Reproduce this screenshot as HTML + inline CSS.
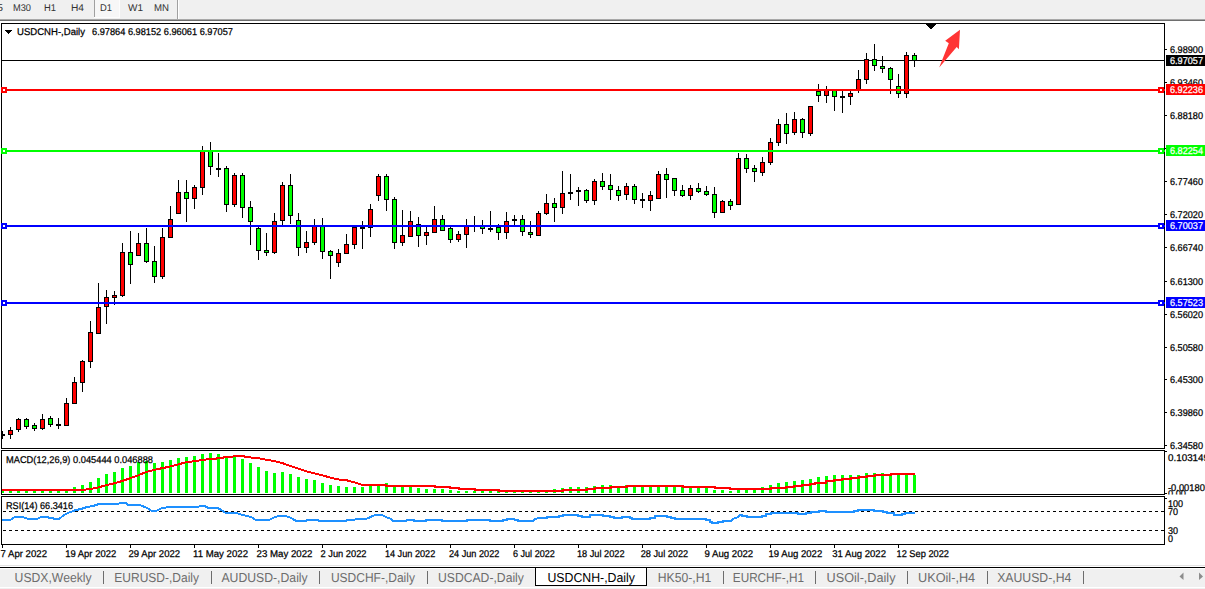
<!DOCTYPE html>
<html><head><meta charset="utf-8"><style>
html,body{margin:0;padding:0;background:#fff;width:1205px;height:589px;overflow:hidden}
svg{display:block}
text{font-family:'Liberation Sans',sans-serif;text-rendering:geometricPrecision}
</style></head><body>
<svg width="1205" height="589" viewBox="0 0 1205 589" shape-rendering="crispEdges">
<rect x="0" y="0" width="1205" height="589" fill="#fff"/>
<rect x="0" y="0" width="1205" height="18" fill="#f0f0f0"/>
<rect x="0" y="18" width="1205" height="1" fill="#f0f0f0"/>
<rect x="0" y="19" width="1205" height="1" fill="#a8a8a8"/>
<rect x="0" y="20" width="1205" height="1" fill="#6e6e6e"/>
<rect x="94" y="0" width="26" height="18" fill="#fdfdfd"/>
<rect x="95" y="0" width="24" height="17" fill="#f7f7f7"/>
<rect x="94" y="0" width="1" height="17" fill="#a0a0a0"/>
<rect x="177" y="0" width="1" height="19" fill="#a0a0a0"/>
<rect x="178" y="0" width="1" height="19" fill="#ffffff"/>
<text x="-3" y="11" font-size="9.8" fill="#333333" stroke="#333333" stroke-width="0" text-anchor="start" textLength="6" lengthAdjust="spacingAndGlyphs">5</text>
<text x="13" y="11" font-size="9.8" fill="#333333" stroke="#333333" stroke-width="0" text-anchor="start" textLength="18" lengthAdjust="spacingAndGlyphs">M30</text>
<text x="44" y="11" font-size="9.8" fill="#333333" stroke="#333333" stroke-width="0" text-anchor="start" textLength="12" lengthAdjust="spacingAndGlyphs">H1</text>
<text x="71" y="11" font-size="9.8" fill="#333333" stroke="#333333" stroke-width="0" text-anchor="start" textLength="13" lengthAdjust="spacingAndGlyphs">H4</text>
<text x="100" y="11" font-size="9.8" fill="#333333" stroke="#333333" stroke-width="0" text-anchor="start" textLength="12" lengthAdjust="spacingAndGlyphs">D1</text>
<text x="128" y="11" font-size="9.8" fill="#333333" stroke="#333333" stroke-width="0" text-anchor="start" textLength="15" lengthAdjust="spacingAndGlyphs">W1</text>
<text x="154" y="11" font-size="9.8" fill="#333333" stroke="#333333" stroke-width="0" text-anchor="start" textLength="15" lengthAdjust="spacingAndGlyphs">MN</text>
<g>
<defs><clipPath id="cm"><rect x="2" y="24" width="1162" height="424"/></clipPath><clipPath id="cd"><rect x="2" y="451" width="1162" height="43"/></clipPath><clipPath id="cr"><rect x="2" y="497" width="1162" height="47"/></clipPath></defs>
<g clip-path="url(#cm)">
<rect x="2" y="60" width="1162" height="1" fill="#000"/>
<rect x="2" y="431" width="1" height="8" fill="#000"/>
<rect x="0" y="434" width="5" height="2" fill="#000"/>
<rect x="10" y="427" width="1" height="12" fill="#000"/>
<rect x="8" y="430" width="5" height="5" fill="#000"/>
<rect x="9" y="431" width="3" height="3" fill="#ff0000"/>
<rect x="18" y="418" width="1" height="14" fill="#000"/>
<rect x="16" y="419" width="5" height="11" fill="#000"/>
<rect x="17" y="420" width="3" height="9" fill="#ff0000"/>
<rect x="26" y="418" width="1" height="11" fill="#000"/>
<rect x="24" y="419" width="5" height="8" fill="#000"/>
<rect x="25" y="420" width="3" height="6" fill="#00ff00"/>
<rect x="34" y="423" width="1" height="8" fill="#000"/>
<rect x="32" y="425" width="5" height="4" fill="#000"/>
<rect x="33" y="426" width="3" height="2" fill="#00ff00"/>
<rect x="42" y="414" width="1" height="16" fill="#000"/>
<rect x="40" y="419" width="5" height="10" fill="#000"/>
<rect x="41" y="420" width="3" height="8" fill="#ff0000"/>
<rect x="50" y="416" width="1" height="11" fill="#000"/>
<rect x="48" y="418" width="5" height="7" fill="#000"/>
<rect x="49" y="419" width="3" height="5" fill="#00ff00"/>
<rect x="58" y="418" width="1" height="11" fill="#000"/>
<rect x="56" y="424" width="5" height="2" fill="#000"/>
<rect x="66" y="398" width="1" height="28" fill="#000"/>
<rect x="64" y="403" width="5" height="23" fill="#000"/>
<rect x="65" y="404" width="3" height="21" fill="#ff0000"/>
<rect x="74" y="377" width="1" height="27" fill="#000"/>
<rect x="72" y="382" width="5" height="22" fill="#000"/>
<rect x="73" y="383" width="3" height="20" fill="#ff0000"/>
<rect x="82" y="360" width="1" height="32" fill="#000"/>
<rect x="80" y="361" width="5" height="22" fill="#000"/>
<rect x="81" y="362" width="3" height="20" fill="#ff0000"/>
<rect x="90" y="321" width="1" height="47" fill="#000"/>
<rect x="88" y="332" width="5" height="30" fill="#000"/>
<rect x="89" y="333" width="3" height="28" fill="#ff0000"/>
<rect x="98" y="283" width="1" height="51" fill="#000"/>
<rect x="96" y="307" width="5" height="27" fill="#000"/>
<rect x="97" y="308" width="3" height="25" fill="#ff0000"/>
<rect x="106" y="290" width="1" height="34" fill="#000"/>
<rect x="104" y="297" width="5" height="10" fill="#000"/>
<rect x="105" y="298" width="3" height="8" fill="#ff0000"/>
<rect x="114" y="291" width="1" height="14" fill="#000"/>
<rect x="112" y="295" width="5" height="3" fill="#000"/>
<rect x="113" y="296" width="3" height="1" fill="#ff0000"/>
<rect x="122" y="243" width="1" height="54" fill="#000"/>
<rect x="120" y="252" width="5" height="44" fill="#000"/>
<rect x="121" y="253" width="3" height="42" fill="#ff0000"/>
<rect x="130" y="231" width="1" height="53" fill="#000"/>
<rect x="128" y="252" width="5" height="13" fill="#000"/>
<rect x="129" y="253" width="3" height="11" fill="#00ff00"/>
<rect x="138" y="233" width="1" height="23" fill="#000"/>
<rect x="136" y="243" width="5" height="13" fill="#000"/>
<rect x="137" y="244" width="3" height="11" fill="#ff0000"/>
<rect x="146" y="228" width="1" height="35" fill="#000"/>
<rect x="144" y="243" width="5" height="19" fill="#000"/>
<rect x="145" y="244" width="3" height="17" fill="#00ff00"/>
<rect x="154" y="246" width="1" height="37" fill="#000"/>
<rect x="152" y="261" width="5" height="16" fill="#000"/>
<rect x="153" y="262" width="3" height="14" fill="#00ff00"/>
<rect x="162" y="228" width="1" height="51" fill="#000"/>
<rect x="160" y="237" width="5" height="40" fill="#000"/>
<rect x="161" y="238" width="3" height="38" fill="#ff0000"/>
<rect x="170" y="206" width="1" height="32" fill="#000"/>
<rect x="168" y="219" width="5" height="19" fill="#000"/>
<rect x="169" y="220" width="3" height="17" fill="#ff0000"/>
<rect x="178" y="180" width="1" height="34" fill="#000"/>
<rect x="176" y="192" width="5" height="22" fill="#000"/>
<rect x="177" y="193" width="3" height="20" fill="#ff0000"/>
<rect x="186" y="180" width="1" height="42" fill="#000"/>
<rect x="184" y="192" width="5" height="7" fill="#000"/>
<rect x="185" y="193" width="3" height="5" fill="#00ff00"/>
<rect x="194" y="185" width="1" height="24" fill="#000"/>
<rect x="192" y="187" width="5" height="12" fill="#000"/>
<rect x="193" y="188" width="3" height="10" fill="#ff0000"/>
<rect x="202" y="146" width="1" height="49" fill="#000"/>
<rect x="200" y="151" width="5" height="37" fill="#000"/>
<rect x="201" y="152" width="3" height="35" fill="#ff0000"/>
<rect x="210" y="142" width="1" height="33" fill="#000"/>
<rect x="208" y="151" width="5" height="16" fill="#000"/>
<rect x="209" y="152" width="3" height="14" fill="#00ff00"/>
<rect x="218" y="153" width="1" height="24" fill="#000"/>
<rect x="216" y="168" width="5" height="2" fill="#000"/>
<rect x="226" y="166" width="1" height="46" fill="#000"/>
<rect x="224" y="168" width="5" height="37" fill="#000"/>
<rect x="225" y="169" width="3" height="35" fill="#00ff00"/>
<rect x="234" y="173" width="1" height="34" fill="#000"/>
<rect x="232" y="175" width="5" height="30" fill="#000"/>
<rect x="233" y="176" width="3" height="28" fill="#ff0000"/>
<rect x="242" y="173" width="1" height="45" fill="#000"/>
<rect x="240" y="175" width="5" height="33" fill="#000"/>
<rect x="241" y="176" width="3" height="31" fill="#00ff00"/>
<rect x="250" y="201" width="1" height="44" fill="#000"/>
<rect x="248" y="207" width="5" height="15" fill="#000"/>
<rect x="249" y="208" width="3" height="13" fill="#00ff00"/>
<rect x="258" y="227" width="1" height="33" fill="#000"/>
<rect x="256" y="228" width="5" height="23" fill="#000"/>
<rect x="257" y="229" width="3" height="21" fill="#00ff00"/>
<rect x="266" y="233" width="1" height="23" fill="#000"/>
<rect x="264" y="250" width="5" height="3" fill="#000"/>
<rect x="265" y="251" width="3" height="1" fill="#00ff00"/>
<rect x="274" y="213" width="1" height="41" fill="#000"/>
<rect x="272" y="221" width="5" height="32" fill="#000"/>
<rect x="273" y="222" width="3" height="30" fill="#ff0000"/>
<rect x="282" y="182" width="1" height="43" fill="#000"/>
<rect x="280" y="185" width="5" height="36" fill="#000"/>
<rect x="281" y="186" width="3" height="34" fill="#ff0000"/>
<rect x="290" y="174" width="1" height="50" fill="#000"/>
<rect x="288" y="185" width="5" height="31" fill="#000"/>
<rect x="289" y="186" width="3" height="29" fill="#00ff00"/>
<rect x="298" y="213" width="1" height="43" fill="#000"/>
<rect x="296" y="220" width="5" height="28" fill="#000"/>
<rect x="297" y="221" width="3" height="26" fill="#00ff00"/>
<rect x="306" y="231" width="1" height="22" fill="#000"/>
<rect x="304" y="242" width="5" height="6" fill="#000"/>
<rect x="305" y="243" width="3" height="4" fill="#ff0000"/>
<rect x="314" y="219" width="1" height="26" fill="#000"/>
<rect x="312" y="226" width="5" height="17" fill="#000"/>
<rect x="313" y="227" width="3" height="15" fill="#ff0000"/>
<rect x="322" y="218" width="1" height="41" fill="#000"/>
<rect x="320" y="226" width="5" height="26" fill="#000"/>
<rect x="321" y="227" width="3" height="24" fill="#00ff00"/>
<rect x="330" y="250" width="1" height="29" fill="#000"/>
<rect x="328" y="251" width="5" height="5" fill="#000"/>
<rect x="329" y="252" width="3" height="3" fill="#00ff00"/>
<rect x="338" y="249" width="1" height="18" fill="#000"/>
<rect x="336" y="253" width="5" height="10" fill="#000"/>
<rect x="337" y="254" width="3" height="8" fill="#ff0000"/>
<rect x="346" y="234" width="1" height="20" fill="#000"/>
<rect x="344" y="244" width="5" height="10" fill="#000"/>
<rect x="345" y="245" width="3" height="8" fill="#ff0000"/>
<rect x="354" y="227" width="1" height="22" fill="#000"/>
<rect x="352" y="227" width="5" height="18" fill="#000"/>
<rect x="353" y="228" width="3" height="16" fill="#ff0000"/>
<rect x="362" y="221" width="1" height="28" fill="#000"/>
<rect x="360" y="227" width="5" height="2" fill="#000"/>
<rect x="370" y="204" width="1" height="33" fill="#000"/>
<rect x="368" y="209" width="5" height="19" fill="#000"/>
<rect x="369" y="210" width="3" height="17" fill="#ff0000"/>
<rect x="378" y="174" width="1" height="27" fill="#000"/>
<rect x="376" y="176" width="5" height="20" fill="#000"/>
<rect x="377" y="177" width="3" height="18" fill="#ff0000"/>
<rect x="386" y="174" width="1" height="37" fill="#000"/>
<rect x="384" y="176" width="5" height="24" fill="#000"/>
<rect x="385" y="177" width="3" height="22" fill="#00ff00"/>
<rect x="394" y="197" width="1" height="52" fill="#000"/>
<rect x="392" y="199" width="5" height="44" fill="#000"/>
<rect x="393" y="200" width="3" height="42" fill="#00ff00"/>
<rect x="402" y="210" width="1" height="36" fill="#000"/>
<rect x="400" y="235" width="5" height="8" fill="#000"/>
<rect x="401" y="236" width="3" height="6" fill="#ff0000"/>
<rect x="410" y="211" width="1" height="26" fill="#000"/>
<rect x="408" y="221" width="5" height="16" fill="#000"/>
<rect x="409" y="222" width="3" height="14" fill="#ff0000"/>
<rect x="418" y="217" width="1" height="30" fill="#000"/>
<rect x="416" y="224" width="5" height="12" fill="#000"/>
<rect x="417" y="225" width="3" height="10" fill="#00ff00"/>
<rect x="426" y="227" width="1" height="18" fill="#000"/>
<rect x="424" y="232" width="5" height="4" fill="#000"/>
<rect x="425" y="233" width="3" height="2" fill="#ff0000"/>
<rect x="434" y="206" width="1" height="27" fill="#000"/>
<rect x="432" y="219" width="5" height="14" fill="#000"/>
<rect x="433" y="220" width="3" height="12" fill="#ff0000"/>
<rect x="442" y="215" width="1" height="16" fill="#000"/>
<rect x="440" y="219" width="5" height="12" fill="#000"/>
<rect x="441" y="220" width="3" height="10" fill="#00ff00"/>
<rect x="450" y="226" width="1" height="17" fill="#000"/>
<rect x="448" y="228" width="5" height="12" fill="#000"/>
<rect x="449" y="229" width="3" height="10" fill="#00ff00"/>
<rect x="458" y="231" width="1" height="11" fill="#000"/>
<rect x="456" y="234" width="5" height="6" fill="#000"/>
<rect x="457" y="235" width="3" height="4" fill="#ff0000"/>
<rect x="466" y="219" width="1" height="29" fill="#000"/>
<rect x="464" y="226" width="5" height="9" fill="#000"/>
<rect x="465" y="227" width="3" height="7" fill="#ff0000"/>
<rect x="474" y="216" width="1" height="16" fill="#000"/>
<rect x="472" y="225" width="5" height="2" fill="#000"/>
<rect x="482" y="220" width="1" height="14" fill="#000"/>
<rect x="480" y="226" width="5" height="3" fill="#000"/>
<rect x="481" y="227" width="3" height="1" fill="#00ff00"/>
<rect x="490" y="211" width="1" height="21" fill="#000"/>
<rect x="488" y="228" width="5" height="2" fill="#000"/>
<rect x="498" y="224" width="1" height="16" fill="#000"/>
<rect x="496" y="227" width="5" height="6" fill="#000"/>
<rect x="497" y="228" width="3" height="4" fill="#00ff00"/>
<rect x="506" y="212" width="1" height="27" fill="#000"/>
<rect x="504" y="221" width="5" height="12" fill="#000"/>
<rect x="505" y="222" width="3" height="10" fill="#ff0000"/>
<rect x="514" y="215" width="1" height="10" fill="#000"/>
<rect x="512" y="219" width="5" height="2" fill="#000"/>
<rect x="522" y="215" width="1" height="21" fill="#000"/>
<rect x="520" y="219" width="5" height="13" fill="#000"/>
<rect x="521" y="220" width="3" height="11" fill="#00ff00"/>
<rect x="530" y="221" width="1" height="17" fill="#000"/>
<rect x="528" y="232" width="5" height="3" fill="#000"/>
<rect x="529" y="233" width="3" height="1" fill="#00ff00"/>
<rect x="538" y="211" width="1" height="25" fill="#000"/>
<rect x="536" y="213" width="5" height="23" fill="#000"/>
<rect x="537" y="214" width="3" height="21" fill="#ff0000"/>
<rect x="546" y="194" width="1" height="21" fill="#000"/>
<rect x="544" y="203" width="5" height="11" fill="#000"/>
<rect x="545" y="204" width="3" height="9" fill="#ff0000"/>
<rect x="554" y="198" width="1" height="24" fill="#000"/>
<rect x="552" y="203" width="5" height="5" fill="#000"/>
<rect x="553" y="204" width="3" height="3" fill="#00ff00"/>
<rect x="562" y="171" width="1" height="43" fill="#000"/>
<rect x="560" y="193" width="5" height="15" fill="#000"/>
<rect x="561" y="194" width="3" height="13" fill="#ff0000"/>
<rect x="570" y="174" width="1" height="26" fill="#000"/>
<rect x="568" y="192" width="5" height="2" fill="#000"/>
<rect x="578" y="187" width="1" height="19" fill="#000"/>
<rect x="576" y="190" width="5" height="2" fill="#000"/>
<rect x="586" y="189" width="1" height="14" fill="#000"/>
<rect x="584" y="190" width="5" height="11" fill="#000"/>
<rect x="585" y="191" width="3" height="9" fill="#00ff00"/>
<rect x="594" y="179" width="1" height="26" fill="#000"/>
<rect x="592" y="181" width="5" height="20" fill="#000"/>
<rect x="593" y="182" width="3" height="18" fill="#ff0000"/>
<rect x="602" y="173" width="1" height="17" fill="#000"/>
<rect x="600" y="181" width="5" height="6" fill="#000"/>
<rect x="601" y="182" width="3" height="4" fill="#00ff00"/>
<rect x="610" y="174" width="1" height="26" fill="#000"/>
<rect x="608" y="185" width="5" height="5" fill="#000"/>
<rect x="609" y="186" width="3" height="3" fill="#00ff00"/>
<rect x="618" y="186" width="1" height="15" fill="#000"/>
<rect x="616" y="190" width="5" height="6" fill="#000"/>
<rect x="617" y="191" width="3" height="4" fill="#00ff00"/>
<rect x="626" y="183" width="1" height="17" fill="#000"/>
<rect x="624" y="186" width="5" height="9" fill="#000"/>
<rect x="625" y="187" width="3" height="7" fill="#ff0000"/>
<rect x="634" y="184" width="1" height="20" fill="#000"/>
<rect x="632" y="186" width="5" height="14" fill="#000"/>
<rect x="633" y="187" width="3" height="12" fill="#00ff00"/>
<rect x="642" y="193" width="1" height="15" fill="#000"/>
<rect x="640" y="199" width="5" height="2" fill="#000"/>
<rect x="650" y="191" width="1" height="20" fill="#000"/>
<rect x="648" y="195" width="5" height="6" fill="#000"/>
<rect x="649" y="196" width="3" height="4" fill="#ff0000"/>
<rect x="658" y="171" width="1" height="28" fill="#000"/>
<rect x="656" y="174" width="5" height="25" fill="#000"/>
<rect x="657" y="175" width="3" height="23" fill="#ff0000"/>
<rect x="666" y="168" width="1" height="30" fill="#000"/>
<rect x="664" y="174" width="5" height="6" fill="#000"/>
<rect x="665" y="175" width="3" height="4" fill="#00ff00"/>
<rect x="674" y="178" width="1" height="18" fill="#000"/>
<rect x="672" y="178" width="5" height="13" fill="#000"/>
<rect x="673" y="179" width="3" height="11" fill="#00ff00"/>
<rect x="682" y="185" width="1" height="12" fill="#000"/>
<rect x="680" y="190" width="5" height="6" fill="#000"/>
<rect x="681" y="191" width="3" height="4" fill="#00ff00"/>
<rect x="690" y="185" width="1" height="15" fill="#000"/>
<rect x="688" y="188" width="5" height="8" fill="#000"/>
<rect x="689" y="189" width="3" height="6" fill="#ff0000"/>
<rect x="698" y="183" width="1" height="10" fill="#000"/>
<rect x="696" y="188" width="5" height="4" fill="#000"/>
<rect x="697" y="189" width="3" height="2" fill="#00ff00"/>
<rect x="706" y="186" width="1" height="10" fill="#000"/>
<rect x="704" y="191" width="5" height="4" fill="#000"/>
<rect x="705" y="192" width="3" height="2" fill="#00ff00"/>
<rect x="714" y="187" width="1" height="31" fill="#000"/>
<rect x="712" y="194" width="5" height="19" fill="#000"/>
<rect x="713" y="195" width="3" height="17" fill="#00ff00"/>
<rect x="722" y="200" width="1" height="13" fill="#000"/>
<rect x="720" y="201" width="5" height="12" fill="#000"/>
<rect x="721" y="202" width="3" height="10" fill="#ff0000"/>
<rect x="730" y="199" width="1" height="11" fill="#000"/>
<rect x="728" y="201" width="5" height="5" fill="#000"/>
<rect x="729" y="202" width="3" height="3" fill="#00ff00"/>
<rect x="738" y="153" width="1" height="52" fill="#000"/>
<rect x="736" y="158" width="5" height="47" fill="#000"/>
<rect x="737" y="159" width="3" height="45" fill="#ff0000"/>
<rect x="746" y="154" width="1" height="19" fill="#000"/>
<rect x="744" y="158" width="5" height="11" fill="#000"/>
<rect x="745" y="159" width="3" height="9" fill="#00ff00"/>
<rect x="754" y="165" width="1" height="17" fill="#000"/>
<rect x="752" y="168" width="5" height="4" fill="#000"/>
<rect x="753" y="169" width="3" height="2" fill="#00ff00"/>
<rect x="762" y="157" width="1" height="19" fill="#000"/>
<rect x="760" y="162" width="5" height="11" fill="#000"/>
<rect x="761" y="163" width="3" height="9" fill="#ff0000"/>
<rect x="770" y="138" width="1" height="27" fill="#000"/>
<rect x="768" y="142" width="5" height="21" fill="#000"/>
<rect x="769" y="143" width="3" height="19" fill="#ff0000"/>
<rect x="778" y="119" width="1" height="27" fill="#000"/>
<rect x="776" y="124" width="5" height="19" fill="#000"/>
<rect x="777" y="125" width="3" height="17" fill="#ff0000"/>
<rect x="786" y="113" width="1" height="31" fill="#000"/>
<rect x="784" y="124" width="5" height="10" fill="#000"/>
<rect x="785" y="125" width="3" height="8" fill="#00ff00"/>
<rect x="794" y="112" width="1" height="23" fill="#000"/>
<rect x="792" y="119" width="5" height="14" fill="#000"/>
<rect x="793" y="120" width="3" height="12" fill="#ff0000"/>
<rect x="802" y="118" width="1" height="20" fill="#000"/>
<rect x="800" y="119" width="5" height="14" fill="#000"/>
<rect x="801" y="120" width="3" height="12" fill="#00ff00"/>
<rect x="810" y="106" width="1" height="30" fill="#000"/>
<rect x="808" y="106" width="5" height="28" fill="#000"/>
<rect x="809" y="107" width="3" height="26" fill="#ff0000"/>
<rect x="818" y="84" width="1" height="18" fill="#000"/>
<rect x="816" y="91" width="5" height="5" fill="#000"/>
<rect x="817" y="92" width="3" height="3" fill="#00ff00"/>
<rect x="826" y="86" width="1" height="17" fill="#000"/>
<rect x="824" y="90" width="5" height="6" fill="#000"/>
<rect x="825" y="91" width="3" height="4" fill="#ff0000"/>
<rect x="834" y="90" width="1" height="21" fill="#000"/>
<rect x="832" y="90" width="5" height="7" fill="#000"/>
<rect x="833" y="91" width="3" height="5" fill="#00ff00"/>
<rect x="842" y="90" width="1" height="23" fill="#000"/>
<rect x="840" y="96" width="5" height="2" fill="#000"/>
<rect x="850" y="91" width="1" height="14" fill="#000"/>
<rect x="848" y="93" width="5" height="4" fill="#000"/>
<rect x="849" y="94" width="3" height="2" fill="#ff0000"/>
<rect x="858" y="70" width="1" height="23" fill="#000"/>
<rect x="856" y="79" width="5" height="12" fill="#000"/>
<rect x="857" y="80" width="3" height="10" fill="#ff0000"/>
<rect x="866" y="53" width="1" height="31" fill="#000"/>
<rect x="864" y="59" width="5" height="21" fill="#000"/>
<rect x="865" y="60" width="3" height="19" fill="#ff0000"/>
<rect x="874" y="44" width="1" height="27" fill="#000"/>
<rect x="872" y="59" width="5" height="7" fill="#000"/>
<rect x="873" y="60" width="3" height="5" fill="#00ff00"/>
<rect x="882" y="56" width="1" height="17" fill="#000"/>
<rect x="880" y="66" width="5" height="3" fill="#000"/>
<rect x="881" y="67" width="3" height="1" fill="#00ff00"/>
<rect x="890" y="67" width="1" height="27" fill="#000"/>
<rect x="888" y="68" width="5" height="12" fill="#000"/>
<rect x="889" y="69" width="3" height="10" fill="#00ff00"/>
<rect x="898" y="74" width="1" height="24" fill="#000"/>
<rect x="896" y="86" width="5" height="8" fill="#000"/>
<rect x="897" y="87" width="3" height="6" fill="#00ff00"/>
<rect x="906" y="52" width="1" height="46" fill="#000"/>
<rect x="904" y="55" width="5" height="39" fill="#000"/>
<rect x="905" y="56" width="3" height="37" fill="#ff0000"/>
<rect x="914" y="53" width="1" height="14" fill="#000"/>
<rect x="912" y="55" width="5" height="6" fill="#000"/>
<rect x="913" y="56" width="3" height="4" fill="#00ff00"/>
<rect x="926" y="24" width="10" height="1" fill="#000"/>
<rect x="927" y="25" width="8" height="1" fill="#000"/>
<rect x="928" y="26" width="6" height="1" fill="#000"/>
<rect x="929" y="27" width="4" height="1" fill="#000"/>
<rect x="930" y="28" width="2" height="1" fill="#000"/>
</g>
<polygon points="939.2,67.4 948.8,43.3 945.2,40.8 960,29.8 958.9,49.2 956.7,46.9" fill="#ff3434" shape-rendering="geometricPrecision"/>
<rect x="1" y="23" width="1164" height="1" fill="#000"/>
<rect x="1" y="448" width="1164" height="1" fill="#000"/>
<rect x="1" y="23" width="1" height="426" fill="#000"/>
<rect x="1164" y="23" width="1" height="426" fill="#000"/>
<rect x="2" y="89" width="1163" height="2" fill="#ff0000"/>
<rect x="1" y="87" width="6" height="6" fill="#ff0000"/>
<rect x="3" y="89" width="2" height="2" fill="#fff"/>
<rect x="1158" y="87" width="6" height="6" fill="#ff0000"/>
<rect x="1160" y="89" width="2" height="2" fill="#fff"/>
<rect x="2" y="150" width="1163" height="2" fill="#00ff00"/>
<rect x="1" y="148" width="6" height="6" fill="#00ff00"/>
<rect x="3" y="150" width="2" height="2" fill="#fff"/>
<rect x="1158" y="148" width="6" height="6" fill="#00ff00"/>
<rect x="1160" y="150" width="2" height="2" fill="#fff"/>
<rect x="2" y="225" width="1163" height="2" fill="#0000ff"/>
<rect x="1" y="223" width="6" height="6" fill="#0000ff"/>
<rect x="3" y="225" width="2" height="2" fill="#fff"/>
<rect x="1158" y="223" width="6" height="6" fill="#0000ff"/>
<rect x="1160" y="225" width="2" height="2" fill="#fff"/>
<rect x="2" y="302" width="1163" height="2" fill="#0000ff"/>
<rect x="1" y="300" width="6" height="6" fill="#0000ff"/>
<rect x="3" y="302" width="2" height="2" fill="#fff"/>
<rect x="1158" y="300" width="6" height="6" fill="#0000ff"/>
<rect x="1160" y="302" width="2" height="2" fill="#fff"/>
<rect x="5" y="30" width="7" height="1" fill="#000"/>
<rect x="6" y="31" width="5" height="1" fill="#000"/>
<rect x="7" y="32" width="3" height="1" fill="#000"/>
<rect x="8" y="33" width="1" height="1" fill="#000"/>
<text x="17" y="35" font-size="9.8" fill="#000" stroke="#000" stroke-width="0.25" text-anchor="start" textLength="68" lengthAdjust="spacingAndGlyphs">USDCNH-,Daily</text>
<text x="92" y="35" font-size="9.8" fill="#000" stroke="#000" stroke-width="0.25" text-anchor="start" textLength="141" lengthAdjust="spacingAndGlyphs">6.97864 6.98152 6.96061 6.97057</text>
<rect x="1165" y="49" width="2" height="1" fill="#000"/>
<text x="1170" y="53" font-size="9.8" fill="#000" stroke="#000" stroke-width="0.25" text-anchor="start" textLength="33" lengthAdjust="spacingAndGlyphs">6.98900</text>
<rect x="1165" y="82" width="2" height="1" fill="#000"/>
<text x="1170" y="86" font-size="9.8" fill="#000" stroke="#000" stroke-width="0.25" text-anchor="start" textLength="33" lengthAdjust="spacingAndGlyphs">6.93460</text>
<rect x="1165" y="115" width="2" height="1" fill="#000"/>
<text x="1170" y="119" font-size="9.8" fill="#000" stroke="#000" stroke-width="0.25" text-anchor="start" textLength="33" lengthAdjust="spacingAndGlyphs">6.88180</text>
<rect x="1165" y="148" width="2" height="1" fill="#000"/>
<text x="1170" y="152" font-size="9.8" fill="#000" stroke="#000" stroke-width="0.25" text-anchor="start" textLength="33" lengthAdjust="spacingAndGlyphs">6.82740</text>
<rect x="1165" y="181" width="2" height="1" fill="#000"/>
<text x="1170" y="185" font-size="9.8" fill="#000" stroke="#000" stroke-width="0.25" text-anchor="start" textLength="33" lengthAdjust="spacingAndGlyphs">6.77460</text>
<rect x="1165" y="214" width="2" height="1" fill="#000"/>
<text x="1170" y="218" font-size="9.8" fill="#000" stroke="#000" stroke-width="0.25" text-anchor="start" textLength="33" lengthAdjust="spacingAndGlyphs">6.72020</text>
<rect x="1165" y="247" width="2" height="1" fill="#000"/>
<text x="1170" y="251" font-size="9.8" fill="#000" stroke="#000" stroke-width="0.25" text-anchor="start" textLength="33" lengthAdjust="spacingAndGlyphs">6.66740</text>
<rect x="1165" y="281" width="2" height="1" fill="#000"/>
<text x="1170" y="285" font-size="9.8" fill="#000" stroke="#000" stroke-width="0.25" text-anchor="start" textLength="33" lengthAdjust="spacingAndGlyphs">6.61300</text>
<rect x="1165" y="314" width="2" height="1" fill="#000"/>
<text x="1170" y="318" font-size="9.8" fill="#000" stroke="#000" stroke-width="0.25" text-anchor="start" textLength="33" lengthAdjust="spacingAndGlyphs">6.56020</text>
<rect x="1165" y="347" width="2" height="1" fill="#000"/>
<text x="1170" y="351" font-size="9.8" fill="#000" stroke="#000" stroke-width="0.25" text-anchor="start" textLength="33" lengthAdjust="spacingAndGlyphs">6.50580</text>
<rect x="1165" y="379" width="2" height="1" fill="#000"/>
<text x="1170" y="383" font-size="9.8" fill="#000" stroke="#000" stroke-width="0.25" text-anchor="start" textLength="33" lengthAdjust="spacingAndGlyphs">6.45300</text>
<rect x="1165" y="412" width="2" height="1" fill="#000"/>
<text x="1170" y="416" font-size="9.8" fill="#000" stroke="#000" stroke-width="0.25" text-anchor="start" textLength="33" lengthAdjust="spacingAndGlyphs">6.39860</text>
<rect x="1165" y="445" width="2" height="1" fill="#000"/>
<text x="1170" y="449" font-size="9.8" fill="#000" stroke="#000" stroke-width="0.25" text-anchor="start" textLength="33" lengthAdjust="spacingAndGlyphs">6.34580</text>
<rect x="1166" y="55" width="39" height="11" fill="#000"/>
<text x="1170" y="64" font-size="9.8" fill="#fff" stroke="#fff" stroke-width="0.25" text-anchor="start" textLength="33" lengthAdjust="spacingAndGlyphs">6.97057</text>
<rect x="1166" y="84" width="39" height="11" fill="#ff0000"/>
<text x="1170" y="93" font-size="9.8" fill="#fff" stroke="#fff" stroke-width="0.25" text-anchor="start" textLength="33" lengthAdjust="spacingAndGlyphs">6.92236</text>
<rect x="1166" y="145" width="39" height="11" fill="#00ff00"/>
<text x="1170" y="154" font-size="9.8" fill="#fff" stroke="#fff" stroke-width="0.25" text-anchor="start" textLength="33" lengthAdjust="spacingAndGlyphs">6.82254</text>
<rect x="1166" y="220" width="39" height="11" fill="#0000ff"/>
<text x="1170" y="229" font-size="9.8" fill="#fff" stroke="#fff" stroke-width="0.25" text-anchor="start" textLength="33" lengthAdjust="spacingAndGlyphs">6.70037</text>
<rect x="1166" y="297" width="39" height="11" fill="#0000ff"/>
<text x="1170" y="306" font-size="9.8" fill="#fff" stroke="#fff" stroke-width="0.25" text-anchor="start" textLength="33" lengthAdjust="spacingAndGlyphs">6.57523</text>
<rect x="1" y="450" width="1164" height="1" fill="#000"/>
<rect x="1" y="494" width="1164" height="1" fill="#000"/>
<rect x="1" y="450" width="1" height="45" fill="#000"/>
<rect x="1164" y="450" width="1" height="45" fill="#000"/>
<g clip-path="url(#cd)">
<rect x="1" y="491" width="3" height="2" fill="#00ff00"/>
<rect x="9" y="491" width="3" height="2" fill="#00ff00"/>
<rect x="17" y="491" width="3" height="2" fill="#00ff00"/>
<rect x="25" y="491" width="3" height="2" fill="#00ff00"/>
<rect x="33" y="491" width="3" height="2" fill="#00ff00"/>
<rect x="41" y="491" width="3" height="2" fill="#00ff00"/>
<rect x="49" y="491" width="3" height="2" fill="#00ff00"/>
<rect x="57" y="491" width="3" height="2" fill="#00ff00"/>
<rect x="65" y="491" width="3" height="2" fill="#00ff00"/>
<rect x="73" y="487" width="3" height="6" fill="#00ff00"/>
<rect x="81" y="485" width="3" height="8" fill="#00ff00"/>
<rect x="89" y="482" width="3" height="11" fill="#00ff00"/>
<rect x="97" y="478" width="3" height="15" fill="#00ff00"/>
<rect x="105" y="474" width="3" height="19" fill="#00ff00"/>
<rect x="113" y="472" width="3" height="21" fill="#00ff00"/>
<rect x="121" y="468" width="3" height="25" fill="#00ff00"/>
<rect x="129" y="466" width="3" height="27" fill="#00ff00"/>
<rect x="137" y="462" width="3" height="31" fill="#00ff00"/>
<rect x="145" y="461" width="3" height="32" fill="#00ff00"/>
<rect x="153" y="463" width="3" height="30" fill="#00ff00"/>
<rect x="161" y="462" width="3" height="31" fill="#00ff00"/>
<rect x="169" y="460" width="3" height="33" fill="#00ff00"/>
<rect x="177" y="458" width="3" height="35" fill="#00ff00"/>
<rect x="185" y="457" width="3" height="36" fill="#00ff00"/>
<rect x="193" y="456" width="3" height="37" fill="#00ff00"/>
<rect x="201" y="454" width="3" height="39" fill="#00ff00"/>
<rect x="209" y="453" width="3" height="40" fill="#00ff00"/>
<rect x="217" y="454" width="3" height="39" fill="#00ff00"/>
<rect x="225" y="456" width="3" height="37" fill="#00ff00"/>
<rect x="233" y="457" width="3" height="36" fill="#00ff00"/>
<rect x="241" y="459" width="3" height="34" fill="#00ff00"/>
<rect x="249" y="463" width="3" height="30" fill="#00ff00"/>
<rect x="257" y="467" width="3" height="26" fill="#00ff00"/>
<rect x="265" y="471" width="3" height="22" fill="#00ff00"/>
<rect x="273" y="473" width="3" height="20" fill="#00ff00"/>
<rect x="281" y="472" width="3" height="21" fill="#00ff00"/>
<rect x="289" y="474" width="3" height="19" fill="#00ff00"/>
<rect x="297" y="477" width="3" height="16" fill="#00ff00"/>
<rect x="305" y="479" width="3" height="14" fill="#00ff00"/>
<rect x="313" y="480" width="3" height="13" fill="#00ff00"/>
<rect x="321" y="483" width="3" height="10" fill="#00ff00"/>
<rect x="329" y="485" width="3" height="8" fill="#00ff00"/>
<rect x="337" y="486" width="3" height="7" fill="#00ff00"/>
<rect x="345" y="487" width="3" height="6" fill="#00ff00"/>
<rect x="353" y="487" width="3" height="6" fill="#00ff00"/>
<rect x="361" y="487" width="3" height="6" fill="#00ff00"/>
<rect x="369" y="486" width="3" height="7" fill="#00ff00"/>
<rect x="377" y="486" width="3" height="7" fill="#00ff00"/>
<rect x="385" y="483" width="3" height="10" fill="#00ff00"/>
<rect x="393" y="487" width="3" height="6" fill="#00ff00"/>
<rect x="401" y="487" width="3" height="6" fill="#00ff00"/>
<rect x="409" y="487" width="3" height="6" fill="#00ff00"/>
<rect x="417" y="488" width="3" height="5" fill="#00ff00"/>
<rect x="425" y="489" width="3" height="4" fill="#00ff00"/>
<rect x="433" y="489" width="3" height="4" fill="#00ff00"/>
<rect x="441" y="489" width="3" height="4" fill="#00ff00"/>
<rect x="449" y="490" width="3" height="3" fill="#00ff00"/>
<rect x="457" y="491" width="3" height="2" fill="#00ff00"/>
<rect x="465" y="491" width="3" height="2" fill="#00ff00"/>
<rect x="473" y="491" width="3" height="2" fill="#00ff00"/>
<rect x="481" y="491" width="3" height="2" fill="#00ff00"/>
<rect x="489" y="491" width="3" height="2" fill="#00ff00"/>
<rect x="497" y="491" width="3" height="2" fill="#00ff00"/>
<rect x="505" y="491" width="3" height="2" fill="#00ff00"/>
<rect x="513" y="491" width="3" height="2" fill="#00ff00"/>
<rect x="521" y="491" width="3" height="2" fill="#00ff00"/>
<rect x="529" y="491" width="3" height="2" fill="#00ff00"/>
<rect x="537" y="491" width="3" height="2" fill="#00ff00"/>
<rect x="545" y="491" width="3" height="2" fill="#00ff00"/>
<rect x="553" y="489" width="3" height="4" fill="#00ff00"/>
<rect x="561" y="488" width="3" height="5" fill="#00ff00"/>
<rect x="569" y="487" width="3" height="6" fill="#00ff00"/>
<rect x="577" y="487" width="3" height="6" fill="#00ff00"/>
<rect x="585" y="487" width="3" height="6" fill="#00ff00"/>
<rect x="593" y="486" width="3" height="7" fill="#00ff00"/>
<rect x="601" y="485" width="3" height="8" fill="#00ff00"/>
<rect x="609" y="485" width="3" height="8" fill="#00ff00"/>
<rect x="617" y="487" width="3" height="6" fill="#00ff00"/>
<rect x="625" y="485" width="3" height="8" fill="#00ff00"/>
<rect x="633" y="487" width="3" height="6" fill="#00ff00"/>
<rect x="641" y="487" width="3" height="6" fill="#00ff00"/>
<rect x="649" y="487" width="3" height="6" fill="#00ff00"/>
<rect x="657" y="487" width="3" height="6" fill="#00ff00"/>
<rect x="665" y="487" width="3" height="6" fill="#00ff00"/>
<rect x="673" y="487" width="3" height="6" fill="#00ff00"/>
<rect x="681" y="487" width="3" height="6" fill="#00ff00"/>
<rect x="689" y="488" width="3" height="5" fill="#00ff00"/>
<rect x="697" y="488" width="3" height="5" fill="#00ff00"/>
<rect x="705" y="488" width="3" height="5" fill="#00ff00"/>
<rect x="713" y="490" width="3" height="3" fill="#00ff00"/>
<rect x="721" y="490" width="3" height="3" fill="#00ff00"/>
<rect x="729" y="491" width="3" height="2" fill="#00ff00"/>
<rect x="737" y="488" width="3" height="5" fill="#00ff00"/>
<rect x="745" y="488" width="3" height="5" fill="#00ff00"/>
<rect x="753" y="488" width="3" height="5" fill="#00ff00"/>
<rect x="761" y="487" width="3" height="6" fill="#00ff00"/>
<rect x="769" y="485" width="3" height="8" fill="#00ff00"/>
<rect x="777" y="483" width="3" height="10" fill="#00ff00"/>
<rect x="785" y="482" width="3" height="11" fill="#00ff00"/>
<rect x="793" y="481" width="3" height="12" fill="#00ff00"/>
<rect x="801" y="480" width="3" height="13" fill="#00ff00"/>
<rect x="809" y="479" width="3" height="14" fill="#00ff00"/>
<rect x="817" y="477" width="3" height="16" fill="#00ff00"/>
<rect x="825" y="476" width="3" height="17" fill="#00ff00"/>
<rect x="833" y="475" width="3" height="18" fill="#00ff00"/>
<rect x="841" y="475" width="3" height="18" fill="#00ff00"/>
<rect x="849" y="475" width="3" height="18" fill="#00ff00"/>
<rect x="857" y="475" width="3" height="18" fill="#00ff00"/>
<rect x="865" y="473" width="3" height="20" fill="#00ff00"/>
<rect x="873" y="473" width="3" height="20" fill="#00ff00"/>
<rect x="881" y="473" width="3" height="20" fill="#00ff00"/>
<rect x="889" y="475" width="3" height="18" fill="#00ff00"/>
<rect x="897" y="475" width="3" height="18" fill="#00ff00"/>
<rect x="905" y="475" width="3" height="18" fill="#00ff00"/>
<rect x="913" y="475" width="3" height="18" fill="#00ff00"/>
<path d="M2,490 L82,490 L90,489 L98,487.5 L106,485.3 L114,483.4 L122,481.1 L130,478.3 L138,475.5 L146,472 L154,469.9 L162,468.2 L170,466.6 L178,464.5 L186,462.3 L194,461.3 L202,460 L210,459 L218,458.4 L226,457.1 L234,456.4 L242,456.1 L250,457.4 L258,458.2 L266,459.7 L274,461 L282,463 L290,465.8 L298,468.5 L306,471.2 L314,473.2 L322,475.2 L330,477.5 L338,479.4 L346,480.1 L354,482.2 L362,484.8 L366,485 H386 V486 H434.6 V487 H450.3 V488 H458.7 V489 H474.7 V490 H498.5 V491 H562.8 V490 H586.5 V489 H595 V488 H611 V487 H626.7 V486 H682.8 V487 H714.6 V488 H730.3 V489 H770.7 V488 H786 V487 H794 V486 H802 V485 H810 V484 H815 V483 H826 V481 H834 V480 H842 V479 H850.5 V478 H858.7 V477 H867 V476 H875 V475 H891 V474 H915" fill="none" stroke="#ff0000" stroke-width="2" stroke-linejoin="miter"/>
</g>
<text x="6" y="463" font-size="9.8" fill="#000" stroke="#000" stroke-width="0.25" text-anchor="start" textLength="147" lengthAdjust="spacingAndGlyphs">MACD(12,26,9) 0.045444 0.046888</text>
<rect x="1165" y="451" width="2" height="1" fill="#000"/>
<text x="1168" y="461" font-size="9.8" fill="#000" stroke="#000" stroke-width="0.25" text-anchor="start" textLength="41" lengthAdjust="spacingAndGlyphs">0.103149</text>
<rect x="1165" y="493" width="2" height="1" fill="#000"/>
<text x="1168" y="491" font-size="9.8" fill="#000" stroke="#000" stroke-width="0.25" text-anchor="start" textLength="42" lengthAdjust="spacingAndGlyphs">-0.001805</text>
<clipPath id="cz"><rect x="1165" y="489" width="40" height="5.5"/></clipPath>
<g clip-path="url(#cz)">
<text x="1168" y="497" font-size="9.8" fill="#000" stroke="#000" stroke-width="0.25" text-anchor="start" textLength="18" lengthAdjust="spacingAndGlyphs">0.00</text>
</g>
<rect x="1" y="496" width="1164" height="1" fill="#000"/>
<rect x="1" y="544" width="1164" height="1" fill="#000"/>
<rect x="1" y="496" width="1" height="49" fill="#000"/>
<rect x="1164" y="496" width="1" height="49" fill="#000"/>
<g clip-path="url(#cr)">
<rect x="3" y="511" width="3" height="1" fill="#000"/>
<rect x="9" y="511" width="3" height="1" fill="#000"/>
<rect x="15" y="511" width="3" height="1" fill="#000"/>
<rect x="21" y="511" width="3" height="1" fill="#000"/>
<rect x="27" y="511" width="3" height="1" fill="#000"/>
<rect x="33" y="511" width="3" height="1" fill="#000"/>
<rect x="39" y="511" width="3" height="1" fill="#000"/>
<rect x="45" y="511" width="3" height="1" fill="#000"/>
<rect x="51" y="511" width="3" height="1" fill="#000"/>
<rect x="57" y="511" width="3" height="1" fill="#000"/>
<rect x="63" y="511" width="3" height="1" fill="#000"/>
<rect x="69" y="511" width="3" height="1" fill="#000"/>
<rect x="75" y="511" width="3" height="1" fill="#000"/>
<rect x="81" y="511" width="3" height="1" fill="#000"/>
<rect x="87" y="511" width="3" height="1" fill="#000"/>
<rect x="93" y="511" width="3" height="1" fill="#000"/>
<rect x="99" y="511" width="3" height="1" fill="#000"/>
<rect x="105" y="511" width="3" height="1" fill="#000"/>
<rect x="111" y="511" width="3" height="1" fill="#000"/>
<rect x="117" y="511" width="3" height="1" fill="#000"/>
<rect x="123" y="511" width="3" height="1" fill="#000"/>
<rect x="129" y="511" width="3" height="1" fill="#000"/>
<rect x="135" y="511" width="3" height="1" fill="#000"/>
<rect x="141" y="511" width="3" height="1" fill="#000"/>
<rect x="147" y="511" width="3" height="1" fill="#000"/>
<rect x="153" y="511" width="3" height="1" fill="#000"/>
<rect x="159" y="511" width="3" height="1" fill="#000"/>
<rect x="165" y="511" width="3" height="1" fill="#000"/>
<rect x="171" y="511" width="3" height="1" fill="#000"/>
<rect x="177" y="511" width="3" height="1" fill="#000"/>
<rect x="183" y="511" width="3" height="1" fill="#000"/>
<rect x="189" y="511" width="3" height="1" fill="#000"/>
<rect x="195" y="511" width="3" height="1" fill="#000"/>
<rect x="201" y="511" width="3" height="1" fill="#000"/>
<rect x="207" y="511" width="3" height="1" fill="#000"/>
<rect x="213" y="511" width="3" height="1" fill="#000"/>
<rect x="219" y="511" width="3" height="1" fill="#000"/>
<rect x="225" y="511" width="3" height="1" fill="#000"/>
<rect x="231" y="511" width="3" height="1" fill="#000"/>
<rect x="237" y="511" width="3" height="1" fill="#000"/>
<rect x="243" y="511" width="3" height="1" fill="#000"/>
<rect x="249" y="511" width="3" height="1" fill="#000"/>
<rect x="255" y="511" width="3" height="1" fill="#000"/>
<rect x="261" y="511" width="3" height="1" fill="#000"/>
<rect x="267" y="511" width="3" height="1" fill="#000"/>
<rect x="273" y="511" width="3" height="1" fill="#000"/>
<rect x="279" y="511" width="3" height="1" fill="#000"/>
<rect x="285" y="511" width="3" height="1" fill="#000"/>
<rect x="291" y="511" width="3" height="1" fill="#000"/>
<rect x="297" y="511" width="3" height="1" fill="#000"/>
<rect x="303" y="511" width="3" height="1" fill="#000"/>
<rect x="309" y="511" width="3" height="1" fill="#000"/>
<rect x="315" y="511" width="3" height="1" fill="#000"/>
<rect x="321" y="511" width="3" height="1" fill="#000"/>
<rect x="327" y="511" width="3" height="1" fill="#000"/>
<rect x="333" y="511" width="3" height="1" fill="#000"/>
<rect x="339" y="511" width="3" height="1" fill="#000"/>
<rect x="345" y="511" width="3" height="1" fill="#000"/>
<rect x="351" y="511" width="3" height="1" fill="#000"/>
<rect x="357" y="511" width="3" height="1" fill="#000"/>
<rect x="363" y="511" width="3" height="1" fill="#000"/>
<rect x="369" y="511" width="3" height="1" fill="#000"/>
<rect x="375" y="511" width="3" height="1" fill="#000"/>
<rect x="381" y="511" width="3" height="1" fill="#000"/>
<rect x="387" y="511" width="3" height="1" fill="#000"/>
<rect x="393" y="511" width="3" height="1" fill="#000"/>
<rect x="399" y="511" width="3" height="1" fill="#000"/>
<rect x="405" y="511" width="3" height="1" fill="#000"/>
<rect x="411" y="511" width="3" height="1" fill="#000"/>
<rect x="417" y="511" width="3" height="1" fill="#000"/>
<rect x="423" y="511" width="3" height="1" fill="#000"/>
<rect x="429" y="511" width="3" height="1" fill="#000"/>
<rect x="435" y="511" width="3" height="1" fill="#000"/>
<rect x="441" y="511" width="3" height="1" fill="#000"/>
<rect x="447" y="511" width="3" height="1" fill="#000"/>
<rect x="453" y="511" width="3" height="1" fill="#000"/>
<rect x="459" y="511" width="3" height="1" fill="#000"/>
<rect x="465" y="511" width="3" height="1" fill="#000"/>
<rect x="471" y="511" width="3" height="1" fill="#000"/>
<rect x="477" y="511" width="3" height="1" fill="#000"/>
<rect x="483" y="511" width="3" height="1" fill="#000"/>
<rect x="489" y="511" width="3" height="1" fill="#000"/>
<rect x="495" y="511" width="3" height="1" fill="#000"/>
<rect x="501" y="511" width="3" height="1" fill="#000"/>
<rect x="507" y="511" width="3" height="1" fill="#000"/>
<rect x="513" y="511" width="3" height="1" fill="#000"/>
<rect x="519" y="511" width="3" height="1" fill="#000"/>
<rect x="525" y="511" width="3" height="1" fill="#000"/>
<rect x="531" y="511" width="3" height="1" fill="#000"/>
<rect x="537" y="511" width="3" height="1" fill="#000"/>
<rect x="543" y="511" width="3" height="1" fill="#000"/>
<rect x="549" y="511" width="3" height="1" fill="#000"/>
<rect x="555" y="511" width="3" height="1" fill="#000"/>
<rect x="561" y="511" width="3" height="1" fill="#000"/>
<rect x="567" y="511" width="3" height="1" fill="#000"/>
<rect x="573" y="511" width="3" height="1" fill="#000"/>
<rect x="579" y="511" width="3" height="1" fill="#000"/>
<rect x="585" y="511" width="3" height="1" fill="#000"/>
<rect x="591" y="511" width="3" height="1" fill="#000"/>
<rect x="597" y="511" width="3" height="1" fill="#000"/>
<rect x="603" y="511" width="3" height="1" fill="#000"/>
<rect x="609" y="511" width="3" height="1" fill="#000"/>
<rect x="615" y="511" width="3" height="1" fill="#000"/>
<rect x="621" y="511" width="3" height="1" fill="#000"/>
<rect x="627" y="511" width="3" height="1" fill="#000"/>
<rect x="633" y="511" width="3" height="1" fill="#000"/>
<rect x="639" y="511" width="3" height="1" fill="#000"/>
<rect x="645" y="511" width="3" height="1" fill="#000"/>
<rect x="651" y="511" width="3" height="1" fill="#000"/>
<rect x="657" y="511" width="3" height="1" fill="#000"/>
<rect x="663" y="511" width="3" height="1" fill="#000"/>
<rect x="669" y="511" width="3" height="1" fill="#000"/>
<rect x="675" y="511" width="3" height="1" fill="#000"/>
<rect x="681" y="511" width="3" height="1" fill="#000"/>
<rect x="687" y="511" width="3" height="1" fill="#000"/>
<rect x="693" y="511" width="3" height="1" fill="#000"/>
<rect x="699" y="511" width="3" height="1" fill="#000"/>
<rect x="705" y="511" width="3" height="1" fill="#000"/>
<rect x="711" y="511" width="3" height="1" fill="#000"/>
<rect x="717" y="511" width="3" height="1" fill="#000"/>
<rect x="723" y="511" width="3" height="1" fill="#000"/>
<rect x="729" y="511" width="3" height="1" fill="#000"/>
<rect x="735" y="511" width="3" height="1" fill="#000"/>
<rect x="741" y="511" width="3" height="1" fill="#000"/>
<rect x="747" y="511" width="3" height="1" fill="#000"/>
<rect x="753" y="511" width="3" height="1" fill="#000"/>
<rect x="759" y="511" width="3" height="1" fill="#000"/>
<rect x="765" y="511" width="3" height="1" fill="#000"/>
<rect x="771" y="511" width="3" height="1" fill="#000"/>
<rect x="777" y="511" width="3" height="1" fill="#000"/>
<rect x="783" y="511" width="3" height="1" fill="#000"/>
<rect x="789" y="511" width="3" height="1" fill="#000"/>
<rect x="795" y="511" width="3" height="1" fill="#000"/>
<rect x="801" y="511" width="3" height="1" fill="#000"/>
<rect x="807" y="511" width="3" height="1" fill="#000"/>
<rect x="813" y="511" width="3" height="1" fill="#000"/>
<rect x="819" y="511" width="3" height="1" fill="#000"/>
<rect x="825" y="511" width="3" height="1" fill="#000"/>
<rect x="831" y="511" width="3" height="1" fill="#000"/>
<rect x="837" y="511" width="3" height="1" fill="#000"/>
<rect x="843" y="511" width="3" height="1" fill="#000"/>
<rect x="849" y="511" width="3" height="1" fill="#000"/>
<rect x="855" y="511" width="3" height="1" fill="#000"/>
<rect x="861" y="511" width="3" height="1" fill="#000"/>
<rect x="867" y="511" width="3" height="1" fill="#000"/>
<rect x="873" y="511" width="3" height="1" fill="#000"/>
<rect x="879" y="511" width="3" height="1" fill="#000"/>
<rect x="885" y="511" width="3" height="1" fill="#000"/>
<rect x="891" y="511" width="3" height="1" fill="#000"/>
<rect x="897" y="511" width="3" height="1" fill="#000"/>
<rect x="903" y="511" width="3" height="1" fill="#000"/>
<rect x="909" y="511" width="3" height="1" fill="#000"/>
<rect x="915" y="511" width="3" height="1" fill="#000"/>
<rect x="921" y="511" width="3" height="1" fill="#000"/>
<rect x="927" y="511" width="3" height="1" fill="#000"/>
<rect x="933" y="511" width="3" height="1" fill="#000"/>
<rect x="939" y="511" width="3" height="1" fill="#000"/>
<rect x="945" y="511" width="3" height="1" fill="#000"/>
<rect x="951" y="511" width="3" height="1" fill="#000"/>
<rect x="957" y="511" width="3" height="1" fill="#000"/>
<rect x="963" y="511" width="3" height="1" fill="#000"/>
<rect x="969" y="511" width="3" height="1" fill="#000"/>
<rect x="975" y="511" width="3" height="1" fill="#000"/>
<rect x="981" y="511" width="3" height="1" fill="#000"/>
<rect x="987" y="511" width="3" height="1" fill="#000"/>
<rect x="993" y="511" width="3" height="1" fill="#000"/>
<rect x="999" y="511" width="3" height="1" fill="#000"/>
<rect x="1005" y="511" width="3" height="1" fill="#000"/>
<rect x="1011" y="511" width="3" height="1" fill="#000"/>
<rect x="1017" y="511" width="3" height="1" fill="#000"/>
<rect x="1023" y="511" width="3" height="1" fill="#000"/>
<rect x="1029" y="511" width="3" height="1" fill="#000"/>
<rect x="1035" y="511" width="3" height="1" fill="#000"/>
<rect x="1041" y="511" width="3" height="1" fill="#000"/>
<rect x="1047" y="511" width="3" height="1" fill="#000"/>
<rect x="1053" y="511" width="3" height="1" fill="#000"/>
<rect x="1059" y="511" width="3" height="1" fill="#000"/>
<rect x="1065" y="511" width="3" height="1" fill="#000"/>
<rect x="1071" y="511" width="3" height="1" fill="#000"/>
<rect x="1077" y="511" width="3" height="1" fill="#000"/>
<rect x="1083" y="511" width="3" height="1" fill="#000"/>
<rect x="1089" y="511" width="3" height="1" fill="#000"/>
<rect x="1095" y="511" width="3" height="1" fill="#000"/>
<rect x="1101" y="511" width="3" height="1" fill="#000"/>
<rect x="1107" y="511" width="3" height="1" fill="#000"/>
<rect x="1113" y="511" width="3" height="1" fill="#000"/>
<rect x="1119" y="511" width="3" height="1" fill="#000"/>
<rect x="1125" y="511" width="3" height="1" fill="#000"/>
<rect x="1131" y="511" width="3" height="1" fill="#000"/>
<rect x="1137" y="511" width="3" height="1" fill="#000"/>
<rect x="1143" y="511" width="3" height="1" fill="#000"/>
<rect x="1149" y="511" width="3" height="1" fill="#000"/>
<rect x="1155" y="511" width="3" height="1" fill="#000"/>
<rect x="1161" y="511" width="3" height="1" fill="#000"/>
<rect x="3" y="530" width="3" height="1" fill="#000"/>
<rect x="9" y="530" width="3" height="1" fill="#000"/>
<rect x="15" y="530" width="3" height="1" fill="#000"/>
<rect x="21" y="530" width="3" height="1" fill="#000"/>
<rect x="27" y="530" width="3" height="1" fill="#000"/>
<rect x="33" y="530" width="3" height="1" fill="#000"/>
<rect x="39" y="530" width="3" height="1" fill="#000"/>
<rect x="45" y="530" width="3" height="1" fill="#000"/>
<rect x="51" y="530" width="3" height="1" fill="#000"/>
<rect x="57" y="530" width="3" height="1" fill="#000"/>
<rect x="63" y="530" width="3" height="1" fill="#000"/>
<rect x="69" y="530" width="3" height="1" fill="#000"/>
<rect x="75" y="530" width="3" height="1" fill="#000"/>
<rect x="81" y="530" width="3" height="1" fill="#000"/>
<rect x="87" y="530" width="3" height="1" fill="#000"/>
<rect x="93" y="530" width="3" height="1" fill="#000"/>
<rect x="99" y="530" width="3" height="1" fill="#000"/>
<rect x="105" y="530" width="3" height="1" fill="#000"/>
<rect x="111" y="530" width="3" height="1" fill="#000"/>
<rect x="117" y="530" width="3" height="1" fill="#000"/>
<rect x="123" y="530" width="3" height="1" fill="#000"/>
<rect x="129" y="530" width="3" height="1" fill="#000"/>
<rect x="135" y="530" width="3" height="1" fill="#000"/>
<rect x="141" y="530" width="3" height="1" fill="#000"/>
<rect x="147" y="530" width="3" height="1" fill="#000"/>
<rect x="153" y="530" width="3" height="1" fill="#000"/>
<rect x="159" y="530" width="3" height="1" fill="#000"/>
<rect x="165" y="530" width="3" height="1" fill="#000"/>
<rect x="171" y="530" width="3" height="1" fill="#000"/>
<rect x="177" y="530" width="3" height="1" fill="#000"/>
<rect x="183" y="530" width="3" height="1" fill="#000"/>
<rect x="189" y="530" width="3" height="1" fill="#000"/>
<rect x="195" y="530" width="3" height="1" fill="#000"/>
<rect x="201" y="530" width="3" height="1" fill="#000"/>
<rect x="207" y="530" width="3" height="1" fill="#000"/>
<rect x="213" y="530" width="3" height="1" fill="#000"/>
<rect x="219" y="530" width="3" height="1" fill="#000"/>
<rect x="225" y="530" width="3" height="1" fill="#000"/>
<rect x="231" y="530" width="3" height="1" fill="#000"/>
<rect x="237" y="530" width="3" height="1" fill="#000"/>
<rect x="243" y="530" width="3" height="1" fill="#000"/>
<rect x="249" y="530" width="3" height="1" fill="#000"/>
<rect x="255" y="530" width="3" height="1" fill="#000"/>
<rect x="261" y="530" width="3" height="1" fill="#000"/>
<rect x="267" y="530" width="3" height="1" fill="#000"/>
<rect x="273" y="530" width="3" height="1" fill="#000"/>
<rect x="279" y="530" width="3" height="1" fill="#000"/>
<rect x="285" y="530" width="3" height="1" fill="#000"/>
<rect x="291" y="530" width="3" height="1" fill="#000"/>
<rect x="297" y="530" width="3" height="1" fill="#000"/>
<rect x="303" y="530" width="3" height="1" fill="#000"/>
<rect x="309" y="530" width="3" height="1" fill="#000"/>
<rect x="315" y="530" width="3" height="1" fill="#000"/>
<rect x="321" y="530" width="3" height="1" fill="#000"/>
<rect x="327" y="530" width="3" height="1" fill="#000"/>
<rect x="333" y="530" width="3" height="1" fill="#000"/>
<rect x="339" y="530" width="3" height="1" fill="#000"/>
<rect x="345" y="530" width="3" height="1" fill="#000"/>
<rect x="351" y="530" width="3" height="1" fill="#000"/>
<rect x="357" y="530" width="3" height="1" fill="#000"/>
<rect x="363" y="530" width="3" height="1" fill="#000"/>
<rect x="369" y="530" width="3" height="1" fill="#000"/>
<rect x="375" y="530" width="3" height="1" fill="#000"/>
<rect x="381" y="530" width="3" height="1" fill="#000"/>
<rect x="387" y="530" width="3" height="1" fill="#000"/>
<rect x="393" y="530" width="3" height="1" fill="#000"/>
<rect x="399" y="530" width="3" height="1" fill="#000"/>
<rect x="405" y="530" width="3" height="1" fill="#000"/>
<rect x="411" y="530" width="3" height="1" fill="#000"/>
<rect x="417" y="530" width="3" height="1" fill="#000"/>
<rect x="423" y="530" width="3" height="1" fill="#000"/>
<rect x="429" y="530" width="3" height="1" fill="#000"/>
<rect x="435" y="530" width="3" height="1" fill="#000"/>
<rect x="441" y="530" width="3" height="1" fill="#000"/>
<rect x="447" y="530" width="3" height="1" fill="#000"/>
<rect x="453" y="530" width="3" height="1" fill="#000"/>
<rect x="459" y="530" width="3" height="1" fill="#000"/>
<rect x="465" y="530" width="3" height="1" fill="#000"/>
<rect x="471" y="530" width="3" height="1" fill="#000"/>
<rect x="477" y="530" width="3" height="1" fill="#000"/>
<rect x="483" y="530" width="3" height="1" fill="#000"/>
<rect x="489" y="530" width="3" height="1" fill="#000"/>
<rect x="495" y="530" width="3" height="1" fill="#000"/>
<rect x="501" y="530" width="3" height="1" fill="#000"/>
<rect x="507" y="530" width="3" height="1" fill="#000"/>
<rect x="513" y="530" width="3" height="1" fill="#000"/>
<rect x="519" y="530" width="3" height="1" fill="#000"/>
<rect x="525" y="530" width="3" height="1" fill="#000"/>
<rect x="531" y="530" width="3" height="1" fill="#000"/>
<rect x="537" y="530" width="3" height="1" fill="#000"/>
<rect x="543" y="530" width="3" height="1" fill="#000"/>
<rect x="549" y="530" width="3" height="1" fill="#000"/>
<rect x="555" y="530" width="3" height="1" fill="#000"/>
<rect x="561" y="530" width="3" height="1" fill="#000"/>
<rect x="567" y="530" width="3" height="1" fill="#000"/>
<rect x="573" y="530" width="3" height="1" fill="#000"/>
<rect x="579" y="530" width="3" height="1" fill="#000"/>
<rect x="585" y="530" width="3" height="1" fill="#000"/>
<rect x="591" y="530" width="3" height="1" fill="#000"/>
<rect x="597" y="530" width="3" height="1" fill="#000"/>
<rect x="603" y="530" width="3" height="1" fill="#000"/>
<rect x="609" y="530" width="3" height="1" fill="#000"/>
<rect x="615" y="530" width="3" height="1" fill="#000"/>
<rect x="621" y="530" width="3" height="1" fill="#000"/>
<rect x="627" y="530" width="3" height="1" fill="#000"/>
<rect x="633" y="530" width="3" height="1" fill="#000"/>
<rect x="639" y="530" width="3" height="1" fill="#000"/>
<rect x="645" y="530" width="3" height="1" fill="#000"/>
<rect x="651" y="530" width="3" height="1" fill="#000"/>
<rect x="657" y="530" width="3" height="1" fill="#000"/>
<rect x="663" y="530" width="3" height="1" fill="#000"/>
<rect x="669" y="530" width="3" height="1" fill="#000"/>
<rect x="675" y="530" width="3" height="1" fill="#000"/>
<rect x="681" y="530" width="3" height="1" fill="#000"/>
<rect x="687" y="530" width="3" height="1" fill="#000"/>
<rect x="693" y="530" width="3" height="1" fill="#000"/>
<rect x="699" y="530" width="3" height="1" fill="#000"/>
<rect x="705" y="530" width="3" height="1" fill="#000"/>
<rect x="711" y="530" width="3" height="1" fill="#000"/>
<rect x="717" y="530" width="3" height="1" fill="#000"/>
<rect x="723" y="530" width="3" height="1" fill="#000"/>
<rect x="729" y="530" width="3" height="1" fill="#000"/>
<rect x="735" y="530" width="3" height="1" fill="#000"/>
<rect x="741" y="530" width="3" height="1" fill="#000"/>
<rect x="747" y="530" width="3" height="1" fill="#000"/>
<rect x="753" y="530" width="3" height="1" fill="#000"/>
<rect x="759" y="530" width="3" height="1" fill="#000"/>
<rect x="765" y="530" width="3" height="1" fill="#000"/>
<rect x="771" y="530" width="3" height="1" fill="#000"/>
<rect x="777" y="530" width="3" height="1" fill="#000"/>
<rect x="783" y="530" width="3" height="1" fill="#000"/>
<rect x="789" y="530" width="3" height="1" fill="#000"/>
<rect x="795" y="530" width="3" height="1" fill="#000"/>
<rect x="801" y="530" width="3" height="1" fill="#000"/>
<rect x="807" y="530" width="3" height="1" fill="#000"/>
<rect x="813" y="530" width="3" height="1" fill="#000"/>
<rect x="819" y="530" width="3" height="1" fill="#000"/>
<rect x="825" y="530" width="3" height="1" fill="#000"/>
<rect x="831" y="530" width="3" height="1" fill="#000"/>
<rect x="837" y="530" width="3" height="1" fill="#000"/>
<rect x="843" y="530" width="3" height="1" fill="#000"/>
<rect x="849" y="530" width="3" height="1" fill="#000"/>
<rect x="855" y="530" width="3" height="1" fill="#000"/>
<rect x="861" y="530" width="3" height="1" fill="#000"/>
<rect x="867" y="530" width="3" height="1" fill="#000"/>
<rect x="873" y="530" width="3" height="1" fill="#000"/>
<rect x="879" y="530" width="3" height="1" fill="#000"/>
<rect x="885" y="530" width="3" height="1" fill="#000"/>
<rect x="891" y="530" width="3" height="1" fill="#000"/>
<rect x="897" y="530" width="3" height="1" fill="#000"/>
<rect x="903" y="530" width="3" height="1" fill="#000"/>
<rect x="909" y="530" width="3" height="1" fill="#000"/>
<rect x="915" y="530" width="3" height="1" fill="#000"/>
<rect x="921" y="530" width="3" height="1" fill="#000"/>
<rect x="927" y="530" width="3" height="1" fill="#000"/>
<rect x="933" y="530" width="3" height="1" fill="#000"/>
<rect x="939" y="530" width="3" height="1" fill="#000"/>
<rect x="945" y="530" width="3" height="1" fill="#000"/>
<rect x="951" y="530" width="3" height="1" fill="#000"/>
<rect x="957" y="530" width="3" height="1" fill="#000"/>
<rect x="963" y="530" width="3" height="1" fill="#000"/>
<rect x="969" y="530" width="3" height="1" fill="#000"/>
<rect x="975" y="530" width="3" height="1" fill="#000"/>
<rect x="981" y="530" width="3" height="1" fill="#000"/>
<rect x="987" y="530" width="3" height="1" fill="#000"/>
<rect x="993" y="530" width="3" height="1" fill="#000"/>
<rect x="999" y="530" width="3" height="1" fill="#000"/>
<rect x="1005" y="530" width="3" height="1" fill="#000"/>
<rect x="1011" y="530" width="3" height="1" fill="#000"/>
<rect x="1017" y="530" width="3" height="1" fill="#000"/>
<rect x="1023" y="530" width="3" height="1" fill="#000"/>
<rect x="1029" y="530" width="3" height="1" fill="#000"/>
<rect x="1035" y="530" width="3" height="1" fill="#000"/>
<rect x="1041" y="530" width="3" height="1" fill="#000"/>
<rect x="1047" y="530" width="3" height="1" fill="#000"/>
<rect x="1053" y="530" width="3" height="1" fill="#000"/>
<rect x="1059" y="530" width="3" height="1" fill="#000"/>
<rect x="1065" y="530" width="3" height="1" fill="#000"/>
<rect x="1071" y="530" width="3" height="1" fill="#000"/>
<rect x="1077" y="530" width="3" height="1" fill="#000"/>
<rect x="1083" y="530" width="3" height="1" fill="#000"/>
<rect x="1089" y="530" width="3" height="1" fill="#000"/>
<rect x="1095" y="530" width="3" height="1" fill="#000"/>
<rect x="1101" y="530" width="3" height="1" fill="#000"/>
<rect x="1107" y="530" width="3" height="1" fill="#000"/>
<rect x="1113" y="530" width="3" height="1" fill="#000"/>
<rect x="1119" y="530" width="3" height="1" fill="#000"/>
<rect x="1125" y="530" width="3" height="1" fill="#000"/>
<rect x="1131" y="530" width="3" height="1" fill="#000"/>
<rect x="1137" y="530" width="3" height="1" fill="#000"/>
<rect x="1143" y="530" width="3" height="1" fill="#000"/>
<rect x="1149" y="530" width="3" height="1" fill="#000"/>
<rect x="1155" y="530" width="3" height="1" fill="#000"/>
<rect x="1161" y="530" width="3" height="1" fill="#000"/>
<polyline points="2,520 10,520 15,517 17,517 23,517 28,519 32,519 37,519 41,517 46,517 51,518 56,519 59,519 64,515 68,513 76,510 81,509 87,507 93,506 99,504 105,504 116,504 122,503 126,503 128,505 140,505 147,508 152,511 156,511 162,508 170,507 172,507 198,507 200,506 205,506 208,508 218,508 221,510 226,513 236,513 243,515 251,517 256,520 269,520 275,517 279,516 285,516 289,517 293,519 296,521 306,521 307,520 318,520 319,521 346,521 347,520 354,520 356,519 365,519 369,518 372,516 376,515 382,515 386,517 391,519 393,521 406,521 407,520 414,520 414,521 426,521 426,520 442,520 442,521 467,521 467,520 490,520 490,521 503,521 503,520 507,520 507,519 514,519 515,520 518,520 518,521 533,521 535,519 539,518 547,518 547,517 559,517 559,516 563,516 563,515 578,515 578,516 582,516 582,517 590,517 590,515 603,515 603,516 610,516 610,517 614,517 614,518 622,518 622,517 630,517 630,518 632,518 632,519 650,519 650,518 655,518 655,516 667,516 667,517 671,517 671,518 675,518 675,519 706,519 706,520 710,520 710,522 712,522 712,523 718,523 718,522 723,522 723,521 731,521 733,519 738,517 740,515 742,515 742,516 747,516 747,517 762,517 762,516 766,516 766,514 771,514 771,513 798,513 798,514 806,514 806,513 811,513 811,512 819,512 819,511 826,511 826,512 854,512 854,511 858,511 858,510 874,510 874,511 883,511 883,512 887,512 887,513 894,513 894,515 902,515 902,514 905,514 905,513 915,513" fill="none" stroke="#1e90ff" stroke-width="2"/>
</g>
<text x="6" y="509" font-size="9.8" fill="#000" stroke="#000" stroke-width="0.25" text-anchor="start" textLength="67" lengthAdjust="spacingAndGlyphs">RSI(14) 66.3416</text>
<rect x="1165" y="498" width="2" height="1" fill="#000"/>
<text x="1168" y="507" font-size="9.8" fill="#000" stroke="#000" stroke-width="0.25" text-anchor="start" textLength="15" lengthAdjust="spacingAndGlyphs">100</text>
<text x="1168" y="515" font-size="9.8" fill="#000" stroke="#000" stroke-width="0.25" text-anchor="start" textLength="10" lengthAdjust="spacingAndGlyphs">70</text>
<text x="1168" y="534" font-size="9.8" fill="#000" stroke="#000" stroke-width="0.25" text-anchor="start" textLength="10" lengthAdjust="spacingAndGlyphs">30</text>
<text x="1168" y="542" font-size="9.8" fill="#000" stroke="#000" stroke-width="0.25" text-anchor="start" textLength="5" lengthAdjust="spacingAndGlyphs">0</text>
<rect x="2" y="545" width="1" height="3" fill="#000"/>
<text x="0.5" y="557" font-size="9.8" fill="#000" stroke="#000" stroke-width="0.25" text-anchor="start" textLength="46.5" lengthAdjust="spacingAndGlyphs">7 Apr 2022</text>
<rect x="66" y="545" width="1" height="3" fill="#000"/>
<text x="65.2" y="557" font-size="9.8" fill="#000" stroke="#000" stroke-width="0.25" text-anchor="start" textLength="51" lengthAdjust="spacingAndGlyphs">19 Apr 2022</text>
<rect x="130" y="545" width="1" height="3" fill="#000"/>
<text x="128.5" y="557" font-size="9.8" fill="#000" stroke="#000" stroke-width="0.25" text-anchor="start" textLength="51.6" lengthAdjust="spacingAndGlyphs">29 Apr 2022</text>
<rect x="194" y="545" width="1" height="3" fill="#000"/>
<text x="193.0" y="557" font-size="9.8" fill="#000" stroke="#000" stroke-width="0.25" text-anchor="start" textLength="55" lengthAdjust="spacingAndGlyphs">11 May 2022</text>
<rect x="258" y="545" width="1" height="3" fill="#000"/>
<text x="256.5" y="557" font-size="9.8" fill="#000" stroke="#000" stroke-width="0.25" text-anchor="start" textLength="56" lengthAdjust="spacingAndGlyphs">23 May 2022</text>
<rect x="322" y="545" width="1" height="3" fill="#000"/>
<text x="320.5" y="557" font-size="9.8" fill="#000" stroke="#000" stroke-width="0.25" text-anchor="start" textLength="46" lengthAdjust="spacingAndGlyphs">2 Jun 2022</text>
<rect x="386" y="545" width="1" height="3" fill="#000"/>
<text x="384.9" y="557" font-size="9.8" fill="#000" stroke="#000" stroke-width="0.25" text-anchor="start" textLength="50.4" lengthAdjust="spacingAndGlyphs">14 Jun 2022</text>
<rect x="450" y="545" width="1" height="3" fill="#000"/>
<text x="449.0" y="557" font-size="9.8" fill="#000" stroke="#000" stroke-width="0.25" text-anchor="start" textLength="50.3" lengthAdjust="spacingAndGlyphs">24 Jun 2022</text>
<rect x="514" y="545" width="1" height="3" fill="#000"/>
<text x="512.9" y="557" font-size="9.8" fill="#000" stroke="#000" stroke-width="0.25" text-anchor="start" textLength="42" lengthAdjust="spacingAndGlyphs">6 Jul 2022</text>
<rect x="578" y="545" width="1" height="3" fill="#000"/>
<text x="577.0" y="557" font-size="9.8" fill="#000" stroke="#000" stroke-width="0.25" text-anchor="start" textLength="47.5" lengthAdjust="spacingAndGlyphs">18 Jul 2022</text>
<rect x="642" y="545" width="1" height="3" fill="#000"/>
<text x="640.7" y="557" font-size="9.8" fill="#000" stroke="#000" stroke-width="0.25" text-anchor="start" textLength="47.5" lengthAdjust="spacingAndGlyphs">28 Jul 2022</text>
<rect x="706" y="545" width="1" height="3" fill="#000"/>
<text x="704.5" y="557" font-size="9.8" fill="#000" stroke="#000" stroke-width="0.25" text-anchor="start" textLength="48.7" lengthAdjust="spacingAndGlyphs">9 Aug 2022</text>
<rect x="770" y="545" width="1" height="3" fill="#000"/>
<text x="768.5" y="557" font-size="9.8" fill="#000" stroke="#000" stroke-width="0.25" text-anchor="start" textLength="53.7" lengthAdjust="spacingAndGlyphs">19 Aug 2022</text>
<rect x="834" y="545" width="1" height="3" fill="#000"/>
<text x="832.3" y="557" font-size="9.8" fill="#000" stroke="#000" stroke-width="0.25" text-anchor="start" textLength="53.7" lengthAdjust="spacingAndGlyphs">31 Aug 2022</text>
<rect x="898" y="545" width="1" height="3" fill="#000"/>
<text x="896.5" y="557" font-size="9.8" fill="#000" stroke="#000" stroke-width="0.25" text-anchor="start" textLength="52.5" lengthAdjust="spacingAndGlyphs">12 Sep 2022</text>
<rect x="0" y="565" width="1205" height="1" fill="#e3e3e3"/>
<rect x="0" y="566" width="1205" height="1" fill="#ffffff"/>
<rect x="0" y="567" width="1205" height="1" fill="#000"/>
<rect x="0" y="568" width="1205" height="1" fill="#ffffff"/>
<rect x="0" y="569" width="1205" height="20" fill="#f0f0f0"/>
<rect x="0" y="587" width="1205" height="1" fill="#ffffff"/>
<rect x="535" y="567" width="112" height="19" fill="#000"/>
<rect x="536" y="568" width="110" height="17" fill="#fff"/>
<text x="14.6" y="582" font-size="13" fill="#6d6d6d" stroke="#6d6d6d" stroke-width="0" text-anchor="start" textLength="77.0" lengthAdjust="spacingAndGlyphs">USDX,Weekly</text>
<rect x="103" y="571" width="1" height="13" fill="#6d6d6d"/>
<text x="114.3" y="582" font-size="13" fill="#6d6d6d" stroke="#6d6d6d" stroke-width="0" text-anchor="start" textLength="84.7" lengthAdjust="spacingAndGlyphs">EURUSD-,Daily</text>
<rect x="211" y="571" width="1" height="13" fill="#6d6d6d"/>
<text x="221.4" y="582" font-size="13" fill="#6d6d6d" stroke="#6d6d6d" stroke-width="0" text-anchor="start" textLength="86.3" lengthAdjust="spacingAndGlyphs">AUDUSD-,Daily</text>
<rect x="319" y="571" width="1" height="13" fill="#6d6d6d"/>
<text x="330.9" y="582" font-size="13" fill="#6d6d6d" stroke="#6d6d6d" stroke-width="0" text-anchor="start" textLength="84.0" lengthAdjust="spacingAndGlyphs">USDCHF-,Daily</text>
<rect x="427" y="571" width="1" height="13" fill="#6d6d6d"/>
<text x="438" y="582" font-size="13" fill="#6d6d6d" stroke="#6d6d6d" stroke-width="0" text-anchor="start" textLength="85.9" lengthAdjust="spacingAndGlyphs">USDCAD-,Daily</text>
<text x="547.4" y="582" font-size="13" fill="#000" stroke="#000" stroke-width="0" text-anchor="start" textLength="87.6" lengthAdjust="spacingAndGlyphs">USDCNH-,Daily</text>
<text x="657.8" y="582" font-size="13" fill="#6d6d6d" stroke="#6d6d6d" stroke-width="0" text-anchor="start" textLength="53.5" lengthAdjust="spacingAndGlyphs">HK50-,H1</text>
<rect x="723" y="571" width="1" height="13" fill="#6d6d6d"/>
<text x="732.8" y="582" font-size="13" fill="#6d6d6d" stroke="#6d6d6d" stroke-width="0" text-anchor="start" textLength="71.2" lengthAdjust="spacingAndGlyphs">EURCHF-,H1</text>
<rect x="815" y="571" width="1" height="13" fill="#6d6d6d"/>
<text x="826.6" y="582" font-size="13" fill="#6d6d6d" stroke="#6d6d6d" stroke-width="0" text-anchor="start" textLength="68.9" lengthAdjust="spacingAndGlyphs">USOil-,Daily</text>
<rect x="907" y="571" width="1" height="13" fill="#6d6d6d"/>
<text x="918" y="582" font-size="13" fill="#6d6d6d" stroke="#6d6d6d" stroke-width="0" text-anchor="start" textLength="57.2" lengthAdjust="spacingAndGlyphs">UKOil-,H4</text>
<rect x="987" y="571" width="1" height="13" fill="#6d6d6d"/>
<text x="997.2" y="582" font-size="13" fill="#6d6d6d" stroke="#6d6d6d" stroke-width="0" text-anchor="start" textLength="74.1" lengthAdjust="spacingAndGlyphs">XAUUSD-,H4</text>
<rect x="1083" y="571" width="1" height="13" fill="#6d6d6d"/>
<polygon points="1179.5,576.5 1183.5,572.5 1183.5,580" fill="#8c8c8c" shape-rendering="geometricPrecision"/>
<polygon points="1199,572.5 1203,576.5 1199,580" fill="#8c8c8c" shape-rendering="geometricPrecision"/>
</g>
</svg>
</body></html>
